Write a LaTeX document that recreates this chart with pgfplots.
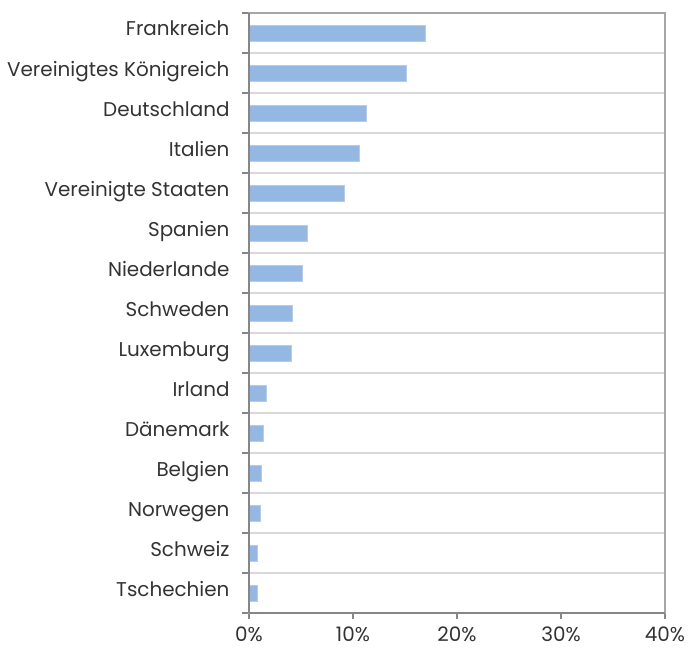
\documentclass[border=0pt]{standalone}
\usepackage{fontspec}
\setmainfont{Poppins}
\usepackage{pgfplots}
\pgfplotsset{compat=1.18}
\definecolor{barc}{HTML}{95B8E3}
\definecolor{gridc}{HTML}{D9D9D9}
\definecolor{axc}{HTML}{868686}
\definecolor{boxc}{HTML}{A6A6A6}
\begin{document}
\begin{tikzpicture}
\begin{axis}[
  scale only axis,
  width=416bp, height=600bp,
  xbar, bar width=0.4,
  y dir=reverse,
  xmin=0, xmax=40, ymin=-0.5, ymax=14.5,
  xtick={0,10,20,30,40},
  xticklabel={\pgfmathprintnumber{\tick}\%},
  /pgf/number format/assume math mode=true,
  ytick={0,...,14},
  yticklabels={Frankreich,Vereinigtes Königreich,Deutschland,Italien,Vereinigte Staaten,Spanien,Niederlande,Schweden,Luxemburg,Irland,Dänemark,Belgien,Norwegen,Schweiz,Tschechien},
  minor ytick={-0.5,0.5,...,14.5},
  yminorgrids=true,
  minor grid style={draw=gridc, line width=1.2pt},
  major tick length=6bp,
  minor tick length=7bp,
  every major y tick/.append style={draw=none},
  every minor y tick/.append style={draw=axc, line width=1.3pt},
  every major x tick/.append style={draw=axc, line width=1.3pt},
  tick align=outside,
  tick pos=left,
  axis line style={draw=boxc, line width=1.2pt},
  ticklabel style={font=\fontsize{20}{24}\selectfont, text=black!80},
  yticklabel style={xshift=-10bp, anchor=base east, yshift=-3bp},
  xticklabel style={yshift=-4bp},
  clip=false,
]
\addplot[fill=barc, draw=barc!70!white, line width=0.4pt] coordinates {
(16.9,0) (15.1,1) (11.3,2) (10.6,3) (9.2,4) (5.6,5) (5.1,6) (4.2,7) (4.1,8) (1.7,9) (1.4,10) (1.15,11) (1.1,12) (0.8,13) (0.75,14)};
\draw[axc, line width=1.4pt] (rel axis cs:0,0) -- (rel axis cs:0,1);
\draw[axc, line width=1.4pt] (rel axis cs:0,0) -- (rel axis cs:1,0);
\coordinate (ll) at (rel axis cs:0,0);
\coordinate (ur) at (rel axis cs:1,1);
\end{axis}
\pgfresetboundingbox
\path ([shift={(-249bp,-38bp)}]ll) rectangle ([shift={(25bp,13bp)}]ur);
\end{tikzpicture}
\end{document}
